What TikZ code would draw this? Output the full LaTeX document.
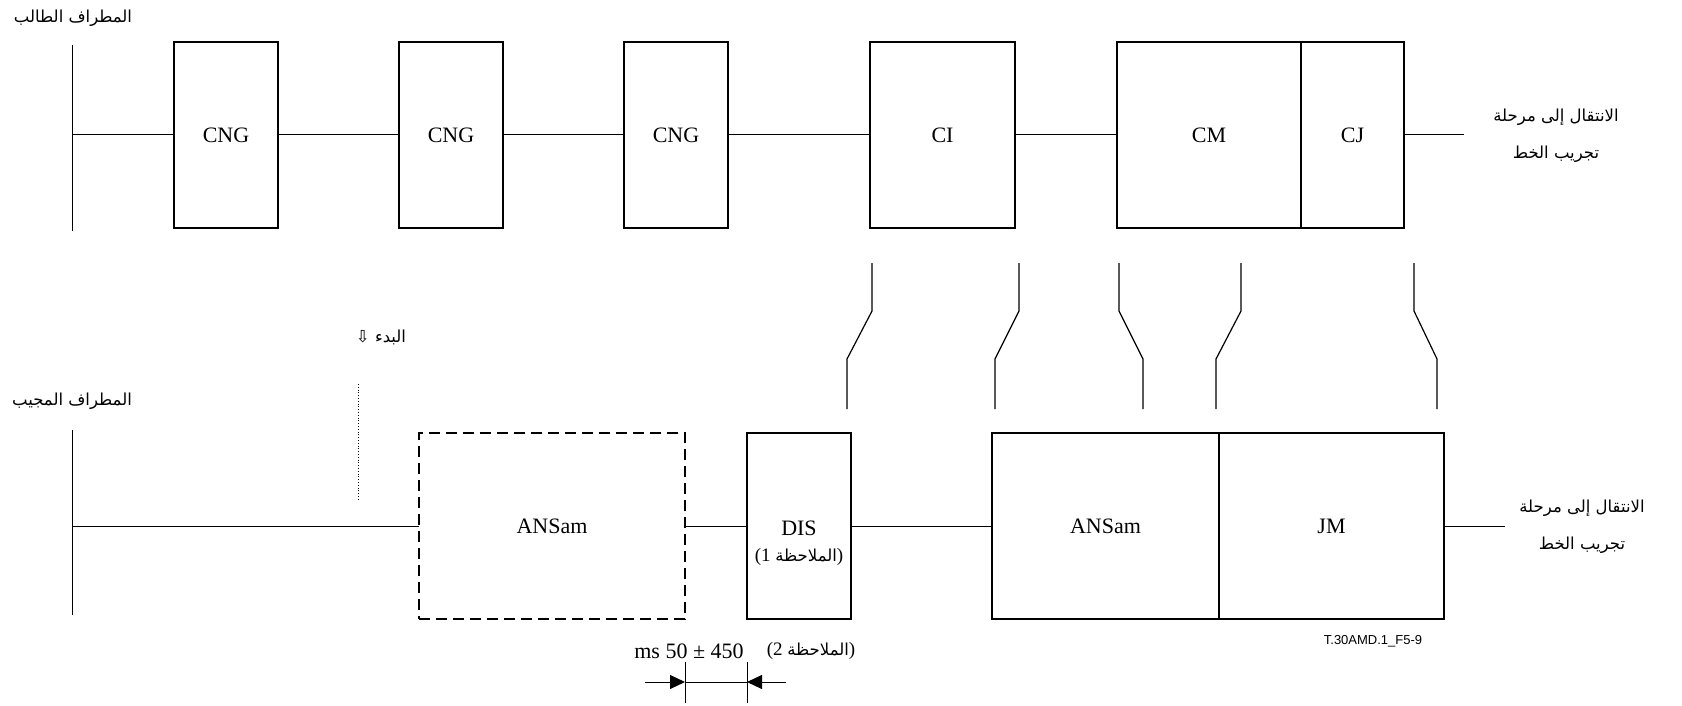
\documentclass[tikz,border=0pt]{standalone}
\usepackage{fontspec}
\setmainfont{Liberation Serif}
\newfontfamily\arabicfont[Script=Arabic]{DejaVu Sans}
\newfontfamily\labsans{Liberation Sans}
\TeXXeTstate=1
\usetikzlibrary{arrows.meta}
\begin{document}
\begin{tikzpicture}[x=1pt,y=-1pt,
  box/.style={draw, line width=2.4pt, inner sep=0pt, outer sep=0pt, minimum height=186pt,
    font=\fontsize{22}{26}\selectfont, align=center},
  dbox/.style={box, dashed, dash pattern=on 11pt off 6pt},
  wire/.style={line width=1pt},
  sw/.style={line width=1.2pt},
  arlab/.style={font=\arabicfont\fontsize{16.5}{37}\selectfont, inner sep=0pt, align=center},
  dimtip/.style={-{Triangle[length=15pt,width=14pt]}, line width=1pt}]
\useasboundingbox (0,0) rectangle (1682,706);
% ---------- top (calling terminal)
\coordinate (tl1) at (72,45);
\coordinate (tl2) at (72,231);
\draw[wire] (tl1) -- (tl2);
\coordinate (tlm) at (72,135);
\node[box, minimum width=104pt] (cng1) at (226,135) {CNG};
\node[box, minimum width=104pt] (cng2) at (451,135) {CNG};
\node[box, minimum width=104pt] (cng3) at (676,135) {CNG};
\node[box, minimum width=145pt] (ci) at (942.5,135) {CI};
\node[box, minimum width=184pt] (cm) at (1209,135) {CM};
\node[box, minimum width=103pt, anchor=west] (cj) at (cm.east) {CJ};
\coordinate (tend) at (1464,135);
\draw[wire] (tlm) -- (cng1.west);
\draw[wire] (cng1.east) -- (cng2.west);
\draw[wire] (cng2.east) -- (cng3.west);
\draw[wire] (cng3.east) -- (ci.west);
\draw[wire] (ci.east) -- (cm.west);
\draw[wire] (cj.east) -- (tend);
\node[arlab] (caller) at (73,18) {\beginR المطراف الطالب\endR};
\node[arlab] (tnext) at (1556,136) {\beginR الانتقال إلى مرحلة\endR\\\beginR تجريب الخط\endR};
% ---------- bottom (answering terminal)
\coordinate (bl1) at (72,430);
\coordinate (bl2) at (72,615);
\draw[wire] (bl1) -- (bl2);
\coordinate (blm) at (72,526);
\node[dbox, minimum width=266pt] (ans1) at (552,526) {ANSam};
\node[box, minimum width=104pt] (dis) at (799,526) {\rule{0pt}{50pt}DIS\\[0pt]\fontsize{19}{22}\selectfont(1 {\arabicfont\fontsize{16.5}{18}\selectfont الملاحظة})};
\node[box, minimum width=227pt] (ans2) at (1105.5,526) {ANSam};
\node[box, minimum width=225pt, anchor=west] (jm) at (ans2.east) {JM};
\coordinate (bend) at (1505,526);
\draw[wire] (blm) -- (ans1.west);
\draw[wire] (ans1.east) -- (dis.west);
\draw[wire] (dis.east) -- (ans2.west);
\draw[wire] (jm.east) -- (bend);
\node[arlab] (answ) at (72,401) {\beginR المطراف المجيب\endR};
\node[arlab] (bnext) at (1582,527) {\beginR الانتقال إلى مرحلة\endR\\\beginR تجريب الخط\endR};
% start marker
\node[arlab] (start) at (381,337) {⇩ \beginR البدء\endR};
\coordinate (st1) at (358,384);
\coordinate (st2) at (358,499);
\draw[line width=0.8pt, dotted] (st1) -- (st2);
% ---------- switches between the two lines
\foreach \xt/\xb [count=\i] in {872/847, 1019/995, 1119/1143, 1241/1216, 1414/1437} {
  \coordinate (s\i a) at (\xt,263);
  \coordinate (s\i b) at (\xt,311);
  \coordinate (s\i c) at (\xb,359);
  \coordinate (s\i d) at (\xb,409);
  \draw[sw] (s\i a) -- (s\i b) -- (s\i c) -- (s\i d);
}
% ---------- dimension 450 +- 50 ms
\coordinate (d1t) at (ans1.east |- 0,662);
\coordinate (d1b) at (ans1.east |- 0,703);
\coordinate (d2t) at (dis.west |- 0,662);
\coordinate (d2b) at (dis.west |- 0,703);
\coordinate (d1m) at (ans1.east |- 0,682);
\coordinate (d2m) at (dis.west |- 0,682);
\coordinate (dl) at (645,682);
\coordinate (dr) at (786,682);
\draw[wire] (d1t) -- (d1b);
\draw[wire] (d2t) -- (d2b);
\draw[wire] (d1m) -- (d2m);
\draw[dimtip] (dl) -- (d1m);
\draw[dimtip] (dr) -- (d2m);
\node[font=\fontsize{22}{26}\selectfont, inner sep=0pt] (dimtxt) at (689,651) {ms 50 ± 450};
\node[font=\fontsize{19}{22}\selectfont, inner sep=0pt] (note2) at (811,651) {(2 {\arabicfont\fontsize{16.5}{18}\selectfont الملاحظة})};
\node[font=\labsans\fontsize{13}{15}\selectfont, inner sep=0pt] (fig) at (1373,641) {T.30AMD.1\_F5-9};
\end{tikzpicture}
\end{document}
